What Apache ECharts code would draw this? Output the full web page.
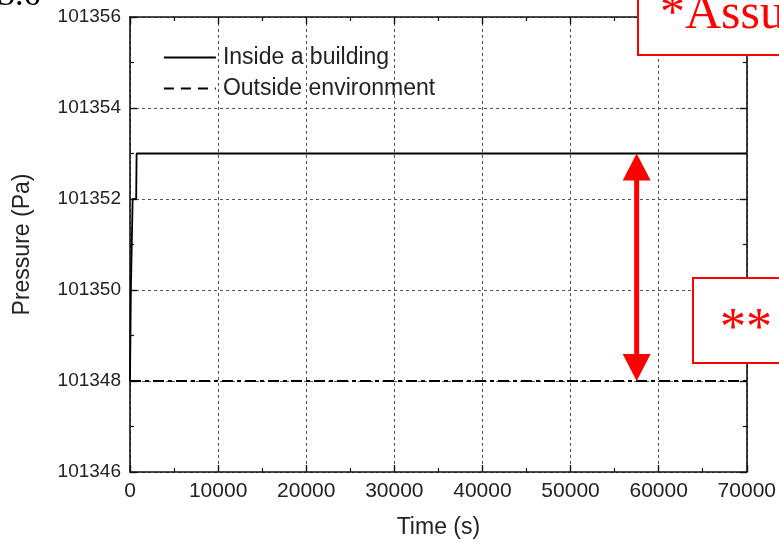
<!DOCTYPE html>
<html><head><meta charset="utf-8">
<script src="https://cdn.jsdelivr.net/npm/echarts@6/dist/echarts.min.js"></script>
<style>html,body{margin:0;padding:0;background:#fff}#c{width:779px;height:544px}</style>
</head><body><div id="c"></div>
<script>
// ---- data ----
const seriesNames = ['Inside a building', 'Outside environment'];
const insideTime = [0, 100, 200, 300, 700, 750, 70000];
const insidePressure = [101348, 101350, 101351, 101352, 101352, 101353, 101353];
const outsideTime = [0, 70000];
const outsidePressure = [101348, 101348];
const xRange = [0, 70000, 10000];
const yRange = [101346, 101356, 2];
const xTitle = 'Time (s)';
const yTitle = 'Pressure (Pa)';
const arrowTime = 57500;
const arrowFrom = 101353;
const arrowTo = 101348;
const note1 = '*Assu';
const note2 = '**';
const cornerText = '3.6';

const pairs = (xs, ys) => xs.map((x, i) => [x, ys[i]]);
const FONT = '"Liberation Sans", Arial, sans-serif';
const axisColor = '#111';

const chart = echarts.init(document.getElementById('c'), null, {renderer: 'canvas'});

const baseX = {
  type: 'value', min: xRange[0], max: xRange[1], interval: xRange[2],
  axisLine: {onZero: false, lineStyle: {color: axisColor, width: 1.6}},
  axisTick: {inside: true, length: 7, lineStyle: {color: axisColor, width: 1.4}},
  minorTick: {show: true, splitNumber: 2, length: 4, lineStyle: {color: axisColor, width: 1.2}}
};
const baseY = {
  type: 'value', min: yRange[0], max: yRange[1], interval: yRange[2],
  axisLine: {onZero: false, lineStyle: {color: axisColor, width: 1.6}},
  axisTick: {inside: true, length: 7, lineStyle: {color: axisColor, width: 1.4}},
  minorTick: {show: true, splitNumber: 2, length: 4, lineStyle: {color: axisColor, width: 1.2}}
};

chart.setOption({
  animation: false,
  backgroundColor: '#fff',
  grid: {left: 130, right: 30, top: 17, bottom: 68, containLabel: false},
  legend: {
    orient: 'vertical', left: 163, top: 46, padding: 0,
    itemWidth: 52, itemHeight: 14, itemGap: 8,
    itemStyle: {opacity: 0, borderWidth: 0},
    textStyle: {fontFamily: FONT, fontSize: 23, color: '#222', padding: [0, 0, 0, 2]},
    data: [
      {name: seriesNames[0], lineStyle: {type: 'solid', width: 1.8, color: '#000'}},
      {name: seriesNames[1], lineStyle: {type: [10, 7], width: 1.8, color: '#000'}}
    ]
  },
  xAxis: [
    Object.assign({}, baseX, {
      position: 'bottom', name: xTitle, nameLocation: 'middle', nameGap: 44,
      nameTextStyle: {fontFamily: FONT, fontSize: 23, color: '#222'},
      axisLabel: {fontFamily: FONT, fontSize: 21, color: '#222', margin: 9, formatter: v => String(v)},
      splitLine: {show: true, lineStyle: {color: '#555', width: 1, type: [3, 3]}}
    }),
    Object.assign({}, baseX, {
      position: 'top', axisLabel: {show: false}, splitLine: {show: false}
    })
  ],
  yAxis: [
    Object.assign({}, baseY, {
      position: 'left', name: yTitle, nameLocation: 'middle', nameGap: 96,
      nameTextStyle: {fontFamily: FONT, fontSize: 23, color: '#222'},
      axisLabel: {fontFamily: FONT, fontSize: 19, color: '#222', margin: 9, formatter: v => String(v)},
      splitLine: {show: true, lineStyle: {color: '#555', width: 1, type: [3, 3]}}
    }),
    Object.assign({}, baseY, {
      position: 'right', axisLabel: {show: false}, splitLine: {show: false}
    })
  ],
  series: [
    {
      name: seriesNames[0], type: 'line', symbol: 'none', z: 5,
      data: pairs(insideTime, insidePressure),
      lineStyle: {color: '#000', width: 1.8, type: 'solid'},
      itemStyle: {color: '#000'}
    },
    {
      name: seriesNames[1], type: 'line', symbol: 'none', z: 4,
      data: pairs(outsideTime, outsidePressure),
      lineStyle: {color: '#000', width: 1.8, type: [11, 4, 4, 4]},
      itemStyle: {color: '#000'}
    }
  ]
});

// annotations placed through the axes' own scale
const pTop = chart.convertToPixel({xAxisIndex: 0, yAxisIndex: 0}, [arrowTime, arrowFrom]);
const pBot = chart.convertToPixel({xAxisIndex: 0, yAxisIndex: 0}, [arrowTime, arrowTo]);
const ax = pTop[0], headL = 27, headW = 14, shaft = 5;
const RED = '#ff0000';
chart.setOption({
  graphic: [
    {type: 'rect', z: 100, shape: {x: ax - shaft / 2, y: pTop[1] + headL - 2, width: shaft, height: pBot[1] - pTop[1] - 2 * headL + 4}, style: {fill: RED}},
    {type: 'polygon', z: 100, shape: {points: [[ax, pTop[1]], [ax - headW, pTop[1] + headL], [ax + headW, pTop[1] + headL]]}, style: {fill: RED}},
    {type: 'polygon', z: 100, shape: {points: [[ax, pBot[1]], [ax - headW, pBot[1] - headL], [ax + headW, pBot[1] - headL]]}, style: {fill: RED}},
    {type: 'rect', z: 100, shape: {x: 638, y: -10, width: 200, height: 65}, style: {fill: '#fff', stroke: RED, lineWidth: 2}},
    {type: 'text', z: 101, x: 660, y: 15, style: {text: note1, fill: RED, font: '50px "Liberation Serif", "Times New Roman", serif', verticalAlign: 'middle', align: 'left'}},
    {type: 'rect', z: 100, shape: {x: 693, y: 278, width: 200, height: 85}, style: {fill: '#fff', stroke: RED, lineWidth: 2}},
    {type: 'text', z: 101, x: 720, y: 330, style: {text: note2, fill: RED, font: '52px "Liberation Serif", "Times New Roman", serif', verticalAlign: 'middle', align: 'left'}},
    {type: 'text', z: 101, x: -2, y: -4, style: {text: cornerText, fill: '#000', font: '34px "Liberation Serif", serif', verticalAlign: 'middle', align: 'left'}}
  ]
});
</script>
</body></html>
